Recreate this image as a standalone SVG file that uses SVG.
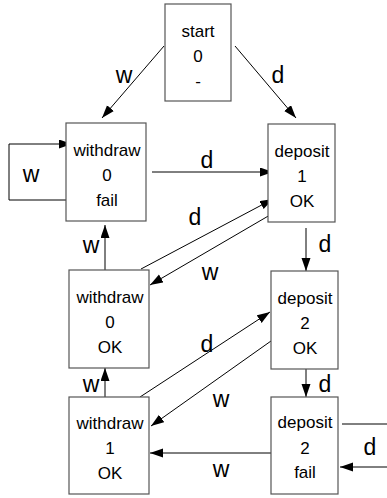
<svg xmlns="http://www.w3.org/2000/svg" width="387" height="498" viewBox="0 0 387 498">
<style>
.box{fill:#fff;stroke:#555;stroke-width:1.2}
.nt{font-family:"Liberation Sans",Arial,sans-serif;font-size:17px;fill:#000;text-anchor:middle}
.e{fill:none;stroke:#000;stroke-width:1}
.lb{font-family:"Liberation Sans",Arial,sans-serif;font-size:23px;fill:#000;text-anchor:middle}
</style>
<defs>
<marker id="ah" markerUnits="userSpaceOnUse" markerWidth="14" markerHeight="10" refX="13" refY="4.5" orient="auto">
<path d="M0,0 L13,4.5 L0,9 z" fill="#000"/>
</marker>
</defs>
<g id="connectors">
<line class="e" x1="164" y1="46" x2="102" y2="118" marker-end="url(#ah)"/>
<line class="e" x1="235" y1="46" x2="296" y2="118" marker-end="url(#ah)"/>
<polyline class="e" points="69,200 9,200 9,144 72,144" marker-end="url(#ah)"/>
<line class="e" x1="152" y1="172" x2="273" y2="172" marker-end="url(#ah)"/>
<line class="e" x1="141" y1="269" x2="273" y2="199" marker-end="url(#ah)"/>
<line class="e" x1="270" y1="215" x2="150" y2="285" marker-end="url(#ah)"/>
<line class="e" x1="306" y1="228" x2="306" y2="271" marker-end="url(#ah)"/>
<line class="e" x1="105" y1="270" x2="105" y2="225" marker-end="url(#ah)"/>
<line class="e" x1="140" y1="397" x2="270" y2="312" marker-end="url(#ah)"/>
<line class="e" x1="271" y1="341" x2="151" y2="426" marker-end="url(#ah)"/>
<line class="e" x1="306" y1="369" x2="306" y2="397" marker-end="url(#ah)"/>
<line class="e" x1="105" y1="397" x2="105" y2="368" marker-end="url(#ah)"/>
<line class="e" x1="271" y1="453" x2="150" y2="453" marker-end="url(#ah)"/>
<polyline class="e" points="342,424 400,424 400,467 340,467" marker-end="url(#ah)"/>
<text class="lb" x="124" y="83">w</text>
<text class="lb" x="278" y="83">d</text>
<text class="lb" x="31" y="182">w</text>
<text class="lb" x="207" y="168">d</text>
<text class="lb" x="195" y="225">d</text>
<text class="lb" x="210" y="280">w</text>
<text class="lb" x="325" y="252">d</text>
<text class="lb" x="91" y="253">w</text>
<text class="lb" x="207" y="352">d</text>
<text class="lb" x="221" y="407">w</text>
<text class="lb" x="325" y="392">d</text>
<text class="lb" x="91" y="392">w</text>
<text class="lb" x="221" y="477">w</text>
<text class="lb" x="370" y="455">d</text>
</g>
<g id="start">
<rect class="box" x="165" y="4" width="66" height="97"/>
<text class="nt" x="198" y="37">start</text>
<text class="nt" x="198" y="62">0</text>
<text class="nt" x="198" y="87">-</text>
</g>
<g id="withdraw0fail">
<rect class="box" x="66" y="123" width="80" height="98"/>
<text class="nt" x="107" y="156">withdraw</text>
<text class="nt" x="107" y="181">0</text>
<text class="nt" x="107" y="206">fail</text>
</g>
<g id="deposit1ok">
<rect class="box" x="268" y="124" width="67" height="98"/>
<text class="nt" x="302" y="157">deposit</text>
<text class="nt" x="302" y="182">1</text>
<text class="nt" x="302" y="207">OK</text>
</g>
<g id="withdraw0ok">
<rect class="box" x="69" y="270" width="80" height="98"/>
<text class="nt" x="110" y="303">withdraw</text>
<text class="nt" x="110" y="328">0</text>
<text class="nt" x="110" y="353">OK</text>
</g>
<g id="deposit2ok">
<rect class="box" x="271" y="271" width="67" height="98"/>
<text class="nt" x="305" y="304">deposit</text>
<text class="nt" x="305" y="329">2</text>
<text class="nt" x="305" y="354">OK</text>
</g>
<g id="withdraw1ok">
<rect class="box" x="69" y="397" width="80" height="97"/>
<text class="nt" x="110" y="429">withdraw</text>
<text class="nt" x="110" y="454">1</text>
<text class="nt" x="110" y="479">OK</text>
</g>
<g id="deposit2fail">
<rect class="box" x="271" y="397" width="67" height="97"/>
<text class="nt" x="305" y="428">deposit</text>
<text class="nt" x="305" y="454">2</text>
<text class="nt" x="305" y="478">fail</text>
</g>
</svg>
